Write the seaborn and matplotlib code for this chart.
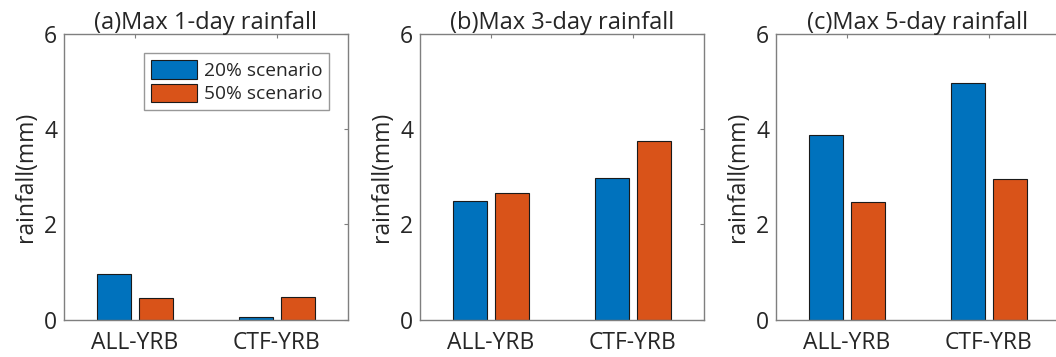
import pandas as pd
import matplotlib.pyplot as plt
import seaborn as sns

# Data
regions = ['ALL-YRB', 'CTF-YRB']
scenarios = ['20% scenario', '50% scenario']
titles = ['(a)Max 1-day rainfall', '(b)Max 3-day rainfall', '(c)Max 5-day rainfall']
max1_20 = [0.96, 0.05]
max1_50 = [0.45, 0.47]
max3_20 = [2.49, 2.98]
max3_50 = [2.66, 3.75]
max5_20 = [3.89, 4.98]
max5_50 = [2.48, 2.95]

panels = [(max1_20, max1_50), (max3_20, max3_50), (max5_20, max5_50)]
colors = ['#0072BD', '#D95319']
axis_gray = '#7f7f7f'

sns.set_style('white')
plt.rcParams['font.family'] = ['Open Sans', 'DejaVu Sans']

fig = plt.figure(figsize=(10.56, 3.57), dpi=100)

for i, (s20, s50) in enumerate(panels):
    df = pd.DataFrame({
        'region': regions * 2,
        'scenario': [scenarios[0]] * 2 + [scenarios[1]] * 2,
        'rainfall': s20 + s50,
    })
    ax = fig.add_axes([(64 + i * 356) / 1056, 0.105, 284 / 1056, 0.799])
    sns.barplot(data=df, x='region', y='rainfall', hue='scenario',
                palette=colors, saturation=1, width=0.59, gap=0.2, ax=ax,
                edgecolor='#1a1a1a', linewidth=0.8, legend=(i == 0))
    ax.set_xlim(-0.5, 1.5)
    ax.set_ylim(0, 6)
    ax.set_yticks([0, 2, 4, 6])
    ax.set_title(titles[i], fontsize=17, pad=4)
    ax.set_xlabel('')
    ax.set_ylabel('rainfall(mm)', fontsize=16.5, labelpad=4)
    ax.tick_params(axis='both', labelsize=16.5, direction='in', length=3,
                   color=axis_gray, top=True, right=True, pad=5)
    ax.tick_params(axis='x', pad=8)
    for sp in ax.spines.values():
        sp.set_visible(True)
        sp.set_color(axis_gray)
        sp.set_linewidth(1)
    if i == 0:
        leg = ax.legend(loc='upper right', fontsize=13.8, frameon=True,
                        fancybox=False, edgecolor=axis_gray,
                        handlelength=2.4, handleheight=1.1,
                        borderaxespad=1.0, borderpad=0.35, labelspacing=0.2,
                        handletextpad=0.35)
        leg.get_frame().set_linewidth(1)
        leg.set_title(None)

fig.savefig('out.png', dpi=100)
